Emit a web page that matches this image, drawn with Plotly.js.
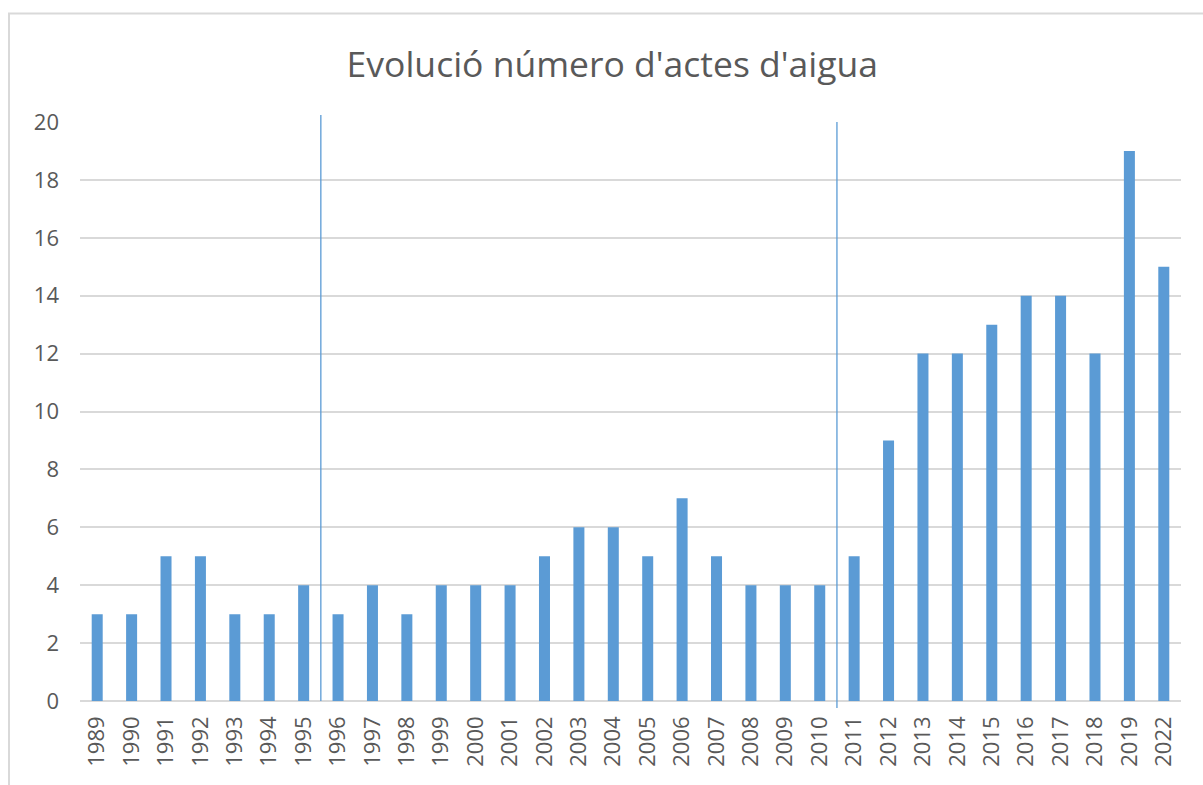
<!DOCTYPE html>
<html>
<head>
<meta charset="utf-8">
<script src="https://cdn.plot.ly/plotly-3.0.1.min.js"></script>
<style>html,body{margin:0;padding:0;background:#fff;}#chart{width:1203px;height:785px;}</style>
</head>
<body>
<div id="chart"></div>
<script>
const years = ["1989","1990","1991","1992","1993","1994","1995","1996","1997","1998","1999","2000","2001","2002","2003","2004","2005","2006","2007","2008","2009","2010","2011","2012","2013","2014","2015","2016","2017","2018","2019","2022"];
const actes = [3,3,5,5,3,3,4,3,4,3,4,4,4,5,6,6,5,7,5,4,4,4,5,9,12,12,13,14,14,12,19,15];
const yTicks = [0,2,4,6,8,10,12,14,16,18,20];
// period separators: between 1995/1996 and between 2010/2011
const separatorsAfter = ["1995","2010"];
const separatorSpan = [[0,1.012],[-0.012,1]]; // fraction of plot height

const idx = years.map((_, i) => i);
const traces = [{
  type: 'bar',
  x: idx,
  y: actes,
  width: 0.32,
  marker: {color: '#5B9BD5'},
  hoverinfo: 'y'
}];
const sepShapes = separatorsAfter.map((yr, k) => {
  const p = years.indexOf(yr) + 0.5;
  return {
    type: 'line', xref: 'x', yref: 'paper',
    x0: p, x1: p, y0: separatorSpan[k][0], y1: separatorSpan[k][1],
    line: {color: '#5B9BD5', width: 1.3}, layer: 'above'
  };
});

const layout = {
  width: 1203, height: 785,
  margin: {l: 80, r: 22, t: 122, b: 84},
  paper_bgcolor: '#ffffff', plot_bgcolor: '#ffffff',
  showlegend: false,
  font: {family: '"Open Sans", "Liberation Sans", sans-serif', color: '#595959'},
  title: {
    text: "Evolució número d'actes d'aigua",
    font: {size: 35.5, color: '#595959', family: '"Open Sans", "Liberation Sans", sans-serif'},
    xref: 'container', x: 0.509, xanchor: 'center',
    yref: 'container', y: 0.918, yanchor: 'middle'
  },
  xaxis: {
    range: [-0.5, years.length - 0.5],
    tickmode: 'array', tickvals: idx, ticktext: years,
    tickangle: -90,
    tickfont: {size: 22, color: '#595959'},
    showgrid: false, zeroline: false,
    showline: false, ticks: '',
    ticklabelstandoff: 10,
    fixedrange: true
  },
  yaxis: {
    range: [0, 20],
    tickmode: 'array', tickvals: yTicks,
    tickfont: {size: 22, color: '#595959'},
    showgrid: true, gridcolor: '#D9D9D9', gridwidth: 2,
    zeroline: true, zerolinecolor: '#D9D9D9', zerolinewidth: 2,
    showline: false, ticks: '',
    ticklabelstandoff: 20,
    fixedrange: true
  },
  shapes: [{
    type: 'rect', xref: 'paper', yref: 'paper',
    x0: -0.0645, x1: 1.05, y0: -0.2, y1: 1.1874,
    line: {color: '#D9D9D9', width: 2}, fillcolor: 'rgba(0,0,0,0)', layer: 'below'
  }].concat(sepShapes)
};

Plotly.newPlot('chart', traces, layout, {displayModeBar: false, staticPlot: true});
</script>
</body>
</html>
